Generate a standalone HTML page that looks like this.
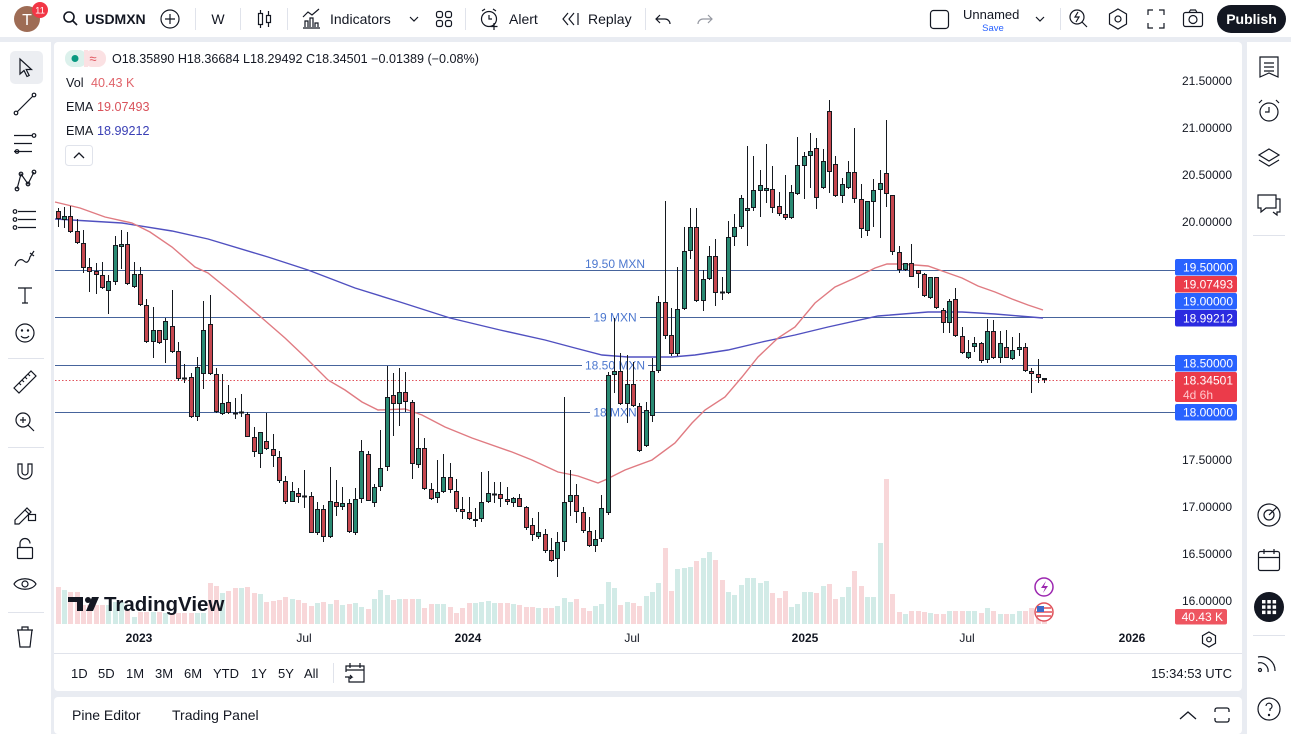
<!DOCTYPE html>
<html>
<head>
<meta charset="utf-8">
<style>
html,body{margin:0;padding:0;background:#e9ecf2;}
svg{display:block;}
text{font-family:"Liberation Sans",Arial,sans-serif;}
</style>
</head>
<body>
<svg width="1291" height="734" viewBox="0 0 1291 734" xmlns="http://www.w3.org/2000/svg">
<rect width="1291" height="734" fill="#e9ecf2"/>
<!-- panels -->
<rect x="0" y="0" width="1291" height="37" fill="#fff"/>
<rect x="0" y="42" width="51" height="692" fill="#fff"/>
<rect x="54" y="42" width="1188" height="649" rx="4" fill="#fff"/>
<rect x="54" y="697" width="1188" height="37" rx="4" fill="#fff"/>
<rect x="1247" y="42" width="44" height="692" fill="#fff"/>

<!-- ===== TOP TOOLBAR ===== -->
<circle cx="27" cy="19" r="13" fill="#9e6c55"/>
<text x="27" y="25" font-size="16" fill="#fff" text-anchor="middle">T</text>
<circle cx="40" cy="10" r="8" fill="#f23645"/>
<text x="40" y="13.5" font-size="9.5" fill="#fff" text-anchor="middle">11</text>
<g fill="none" stroke="#131722" stroke-width="1.6">
<circle cx="69" cy="17" r="5"/><path d="M72.5 20.5L77 25"/>
</g>
<text x="85" y="24" font-size="14" font-weight="bold" fill="#131722">USDMXN</text>
<g fill="none" stroke="#131722" stroke-width="1.2">
<circle cx="170" cy="19" r="9"/><path d="M170 14v10M165 19h10"/>
</g>
<path d="M195.5 8v22M240.5 8v22M287.5 8v22M465.5 8v22M645.5 8v22M1060.5 8v22" stroke="#e0e3eb"/>
<text x="218" y="24" font-size="14" fill="#131722" text-anchor="middle">W</text>
<g fill="none" stroke="#131722" stroke-width="1.2">
<rect x="258.5" y="13.5" width="4" height="11"/><path d="M260.5 10v3.5M260.5 24.5V28"/>
<rect x="266.5" y="15.5" width="4" height="7"/><path d="M268.5 11v4.5M268.5 22.5V27"/>
<path d="M303 28h17M305 27v-6h3v6M310 27v-9h3v9M315 27v-4h3v4M303 17l5-5 4 3 7-6"/>
<path d="M410 17l4 4 4-4"/>
<rect x="436.5" y="11.5" width="6" height="6" rx="2"/><rect x="445.5" y="11.5" width="6" height="6" rx="2"/>
<rect x="436.5" y="20.5" width="6" height="6" rx="2"/><rect x="445.5" y="20.5" width="6" height="6" rx="2"/>
<circle cx="489" cy="19" r="7.5"/><path d="M489 15v4h3M494 23v7M490.5 26.5h7M482 11l3-2M496 11l-3-2"/>
<path d="M568 13l-5 6 5 6M574 13l-5 6 5 6M578 13v12"/>
<path d="M660 15l-4 4 4 4M656 19h9a5 5 0 0 1 5 5"/>
</g>
<g fill="none" stroke="#9598a1" stroke-width="1.2"><path d="M708 15l4 4-4 4M712 19h-9a5 5 0 0 0-5 5"/></g>
<text x="330" y="24" font-size="14" fill="#131722">Indicators</text>
<text x="509" y="24" font-size="14" fill="#131722">Alert</text>
<text x="588" y="24" font-size="14" fill="#131722">Replay</text>
<g fill="none" stroke="#131722" stroke-width="1.2">
<rect x="930.5" y="10.5" width="18" height="18" rx="3"/>
<path d="M1036 17l4 4 4-4"/>
<circle cx="1077" cy="17" r="7"/><path d="M1082 22l5 5M1078 12l-3 5h4l-3 5"/>
<path d="M1118 9l8.5 5v10l-8.5 5-8.5-5V14z"/><circle cx="1118" cy="19" r="3"/>
<path d="M1148 15v-5h5M1159 10h5v5M1164 23v5h-5M1153 28h-5v-5"/>
<rect x="1183.5" y="12.5" width="19" height="14" rx="2"/><circle cx="1193" cy="19.5" r="4"/><path d="M1189 12.5l1.5-2.5h5l1.5 2.5"/>
</g>
<text x="963" y="19" font-size="13" fill="#131722">Unnamed</text>
<text x="993" y="31" font-size="9.5" fill="#2962ff" text-anchor="middle">Save</text>
<rect x="1217" y="5" width="69" height="28" rx="14" fill="#131722"/>
<text x="1251.5" y="24" font-size="14" font-weight="bold" fill="#fff" text-anchor="middle">Publish</text>

<!-- ===== LEFT TOOLBAR ===== -->
<rect x="10" y="51" width="33" height="33" rx="5" fill="#eceef2"/>
<g fill="none" stroke="#131722" stroke-width="1.2">
<path d="M20 59v15l4-3.5 3 6 2.2-1-3-6h5.3z"/>
<path d="M17 112l16-16"/><circle cx="16" cy="113" r="1.8"/><circle cx="34" cy="95" r="1.8"/>
<path d="M14 135.5h18M14 143.5h18M14 151.5h18"/><circle cx="34" cy="135.5" r="1.8"/><circle cx="17" cy="151.5" r="1.8"/>
<path d="M17 189l4-15 7 10 6-12"/><circle cx="17" cy="189" r="1.8"/><circle cx="21" cy="174" r="1.8"/><circle cx="28" cy="184" r="1.8"/><circle cx="34" cy="172" r="1.8"/>
<path d="M18 211.5h18M18 219.5h18M18 227.5h18"/><circle cx="15" cy="211.5" r="1.8"/><circle cx="15" cy="219.5" r="1.8"/><circle cx="15" cy="227.5" r="1.8"/>
<path d="M15 266c2-6 6-8 9-5s5 0 6-4l4-6M30 253l4 3"/>
<path d="M18 288h14M25 288v15M22 303h6"/>
<circle cx="25" cy="333" r="9"/><circle cx="22" cy="330.5" r=".6"/><circle cx="28" cy="330.5" r=".6"/><path d="M21 336c2 2.5 6 2.5 8 0"/>
<path d="M14 388l17-17 5 5-17 17zM19 383l2 2M22 380l2 2M25 377l2 2M28 374l2 2"/>
<circle cx="23" cy="420" r="7"/><path d="M28 425l6 6M20 420h6M23 417v6"/>
<path d="M18 464v8a7 7 0 0 0 14 0v-8h-4v8a3 3 0 0 1-6 0v-8z"/>
<path d="M15 520l12-12 4 4-12 12h-4zM25 510l4 4"/><rect x="28.5" y="514.5" width="7" height="6"/>
<rect x="17.5" y="547.5" width="15" height="11" rx="1"/><path d="M20 547.5v-4a5 5 0 0 1 10 0"/>
<path d="M14 584c4-7 18-7 22 0-4 7-18 7-22 0z"/><circle cx="25" cy="584" r="3"/>
<path d="M17 630h16M22 630v-3h6v3M18 630l2 17h10l2-17"/>
</g>
<path d="M8 358.5h36M8 447.5h36M8 612.5h36" stroke="#e0e3eb"/>

<!-- ===== RIGHT SIDEBAR ===== -->
<g fill="none" stroke="#131722" stroke-width="1.2">
<path d="M1260 57h18v20l-9-4-9 4z"/><path d="M1264 63h10M1264 67h10M1264 71h10"/>
<circle cx="1269" cy="112" r="9"/><path d="M1269 107v5h-4M1259 103l3-3M1279 103l-3-3"/>
<path d="M1269 149l10 6-10 6-10-6zM1259 160l10 6 10-6"/>
<path d="M1258 195h18v13h-10l-5 4v-4h-3zM1276 199h4v13h-3v3l-4-3"/>
<circle cx="1269" cy="515" r="11"/><circle cx="1269" cy="515" r="5"/><path d="M1269 515l8-8"/>
<rect x="1258.5" y="551.5" width="21" height="19" rx="2"/><path d="M1258.5 557.5h21M1264 549v5M1274 549v5"/>
<path d="M1258 657a14 14 0 0 1 17 14M1258 663a8 8 0 0 1 10 9"/><circle cx="1260" cy="670" r="1.5"/>
<circle cx="1269" cy="709" r="11"/><path d="M1266 706a3 3 0 1 1 4 3v2"/><circle cx="1269" cy="715" r=".6"/>
</g>
<circle cx="1269" cy="607" r="15" fill="#131722"/>
<g fill="#fff">
<rect x="1262" y="600" width="3.5" height="3.5"/><rect x="1267.3" y="600" width="3.5" height="3.5"/><rect x="1272.6" y="600" width="3.5" height="3.5"/>
<rect x="1262" y="605.3" width="3.5" height="3.5"/><rect x="1267.3" y="605.3" width="3.5" height="3.5"/><rect x="1272.6" y="605.3" width="3.5" height="3.5"/>
<rect x="1262" y="610.6" width="3.5" height="3.5"/><rect x="1267.3" y="610.6" width="3.5" height="3.5"/><rect x="1272.6" y="610.6" width="3.5" height="3.5"/>
</g>
<path d="M1253 235.5h32M1253 635.5h32" stroke="#e0e3eb"/>

<!-- ===== CHART ===== -->
<!-- volume -->
<path fill="#f8d7d9" d="M56 587h5V624h-5zM68 592h5V624h-5zM75 592h5V624h-5zM81 605h5V624h-5zM87 605h5V624h-5zM94 605h5V624h-5zM100 605h5V624h-5zM125 610h5V624h-5zM138 612h5V624h-5zM144 612h5V624h-5zM157 612h5V624h-5zM170 613h5V624h-5zM176 613h5V624h-5zM182 613h5V624h-5zM189 613h5V624h-5zM208 583h5V624h-5zM214 586h5V624h-5zM226 591h5V624h-5zM233 588h5V624h-5zM245 587h5V624h-5zM252 593h5V624h-5zM264 602h5V624h-5zM271 601h5V624h-5zM277 600h5V624h-5zM283 597h5V624h-5zM296 600h5V624h-5zM302 603h5V624h-5zM309 606h5V624h-5zM321 602h5V624h-5zM334 600h5V624h-5zM347 604h5V624h-5zM366 609h5V624h-5zM391 600h5V624h-5zM403 599h5V624h-5zM410 599h5V624h-5zM422 608h5V624h-5zM429 604h5V624h-5zM448 607h5V624h-5zM454 613h5V624h-5zM460 608h5V624h-5zM467 603h5V624h-5zM498 603h5V624h-5zM505 603h5V624h-5zM517 605h5V624h-5zM524 607h5V624h-5zM530 607h5V624h-5zM543 608h5V624h-5zM549 608h5V624h-5zM574 599h5V624h-5zM581 608h5V624h-5zM587 611h5V624h-5zM618 605h5V624h-5zM631 603h5V624h-5zM637 606h5V624h-5zM663 548h5V624h-5zM669 591h5V624h-5zM694 561h5V624h-5zM713 560h5V624h-5zM720 580h5V624h-5zM770 593h5V624h-5zM777 598h5V624h-5zM783 591h5V624h-5zM814 593h5V624h-5zM827 584h5V624h-5zM833 599h5V624h-5zM852 571h5V624h-5zM859 586h5V624h-5zM884 479h5V624h-5zM890 594h5V624h-5zM897 612h5V624h-5zM909 611h5V624h-5zM916 611h5V624h-5zM922 612h5V624h-5zM934 614h5V624h-5zM941 614h5V624h-5zM953 611h5V624h-5zM960 611h5V624h-5zM979 613h5V624h-5zM991 611h5V624h-5zM1004 614h5V624h-5zM1023 611h5V624h-5zM1029 608h5V624h-5zM1036 611h5V624h-5zM1042 616h5V624h-5z"/>
<path fill="#d2ebe7" d="M62 590h5V624h-5zM106 605h5V624h-5zM113 602h5V624h-5zM119 602h5V624h-5zM132 617h5V624h-5zM151 612h5V624h-5zM163 613h5V624h-5zM195 613h5V624h-5zM201 613h5V624h-5zM220 593h5V624h-5zM239 588h5V624h-5zM258 594h5V624h-5zM290 599h5V624h-5zM315 603h5V624h-5zM328 604h5V624h-5zM340 605h5V624h-5zM353 603h5V624h-5zM359 607h5V624h-5zM372 599h5V624h-5zM378 590h5V624h-5zM385 595h5V624h-5zM397 599h5V624h-5zM416 599h5V624h-5zM435 604h5V624h-5zM441 604h5V624h-5zM473 603h5V624h-5zM479 602h5V624h-5zM486 601h5V624h-5zM492 603h5V624h-5zM511 604h5V624h-5zM536 608h5V624h-5zM555 606h5V624h-5zM562 598h5V624h-5zM568 602h5V624h-5zM593 606h5V624h-5zM599 604h5V624h-5zM606 582h5V624h-5zM612 588h5V624h-5zM625 602h5V624h-5zM644 596h5V624h-5zM650 592h5V624h-5zM656 583h5V624h-5zM675 569h5V624h-5zM682 568h5V624h-5zM688 567h5V624h-5zM701 558h5V624h-5zM707 552h5V624h-5zM726 592h5V624h-5zM732 595h5V624h-5zM739 585h5V624h-5zM745 578h5V624h-5zM751 578h5V624h-5zM758 583h5V624h-5zM764 581h5V624h-5zM789 607h5V624h-5zM795 604h5V624h-5zM802 592h5V624h-5zM808 592h5V624h-5zM821 586h5V624h-5zM840 597h5V624h-5zM846 587h5V624h-5zM865 597h5V624h-5zM871 597h5V624h-5zM878 543h5V624h-5zM903 614h5V624h-5zM928 613h5V624h-5zM947 611h5V624h-5zM966 611h5V624h-5zM972 611h5V624h-5zM985 608h5V624h-5zM998 614h5V624h-5zM1010 614h5V624h-5zM1017 611h5V624h-5z"/>

<!-- TradingView watermark -->
<g fill="#131722">
<path d="M68 597h15v14h-6v-9h-9z"/>
<circle cx="88" cy="600" r="3"/>
<path d="M92 597h7l-6 14h-7z"/>
</g>
<text x="104" y="611" font-size="20.5" font-weight="bold" fill="#131722">TradingView</text>

<!-- horizontal levels -->
<path d="M55 270.5H1175M55 317.5H1175M55 365.5H1175M55 412.5H1175" stroke="#46649c" stroke-width="1"/>
<path d="M55 380.5H1175" stroke="#e0525b" stroke-width="1" stroke-dasharray="1.5 2"/>
<rect x="590" y="310" width="50" height="14" fill="#fff"/>
<rect x="582" y="358" width="66" height="14" fill="#fff"/>
<rect x="590" y="405" width="50" height="14" fill="#fff"/>
<g font-size="12" fill="#4d78cf" text-anchor="middle">
<text x="615" y="268">19.50 MXN</text>
<text x="615" y="321.5">19 MXN</text>
<text x="615" y="369.5">18.50 MXN</text>
<text x="615" y="416.5">18 MXN</text>
</g>

<!-- EMAs -->
<polyline fill="none" stroke="#5050c0" stroke-width="1.4" points="55,219 122,223 172,231 208,239 268,257 308,270 355,288 400,302 450,318 500,330 545,340 575,348 602,355 628,357 672,357 695,355 728,350 762,342 795,335 828,327 878,316 928,312 962,312 995,314 1043,318"/>
<polyline fill="none" stroke="#e07b82" stroke-width="1.4" points="55,202 80,208 105,217 132,223 150,232 172,247 195,267 208,273 235,295 262,318 285,338 305,357 328,380 345,390 362,402 378,410 405,409 422,415 445,427 472,438 512,452 532,460 558,472 578,476 598,483 605,480 625,470 652,460 675,443 692,423 705,410 725,397 742,377 758,357 778,338 795,327 815,303 835,287 855,278 875,268 887,264 898,264 915,265 928,266 945,272 962,278 978,286 995,292 1012,299 1028,305 1043,310"/>

<!-- wicks -->
<path fill="none" stroke="#15191f" stroke-width="1" d="M58.5 208V227M64.5 207V228M70.5 206V233M77.5 219V244M83.5 230V273M89.5 258V292M96.5 263V294M102.5 262V289M108.5 275V314M115.5 236V285M121.5 230V269M127.5 232V285M134.5 262V288M140.5 267V306M146.5 299V343M153.5 307V358M159.5 330V344M165.5 318V363M172.5 290V353M178.5 342V381M184.5 364V383M191.5 373V418M197.5 357V421M203.5 301V389M210.5 295V375M216.5 368V413M222.5 374V415M228.5 385V414M235.5 398V419M241.5 394V417M247.5 412V437M254.5 427V457M260.5 432V468M266.5 413V450M273.5 434V467M279.5 451V483M285.5 476V504M292.5 482V502M298.5 488V503M304.5 470V508M311.5 492V533M317.5 502V535M323.5 505V542M330.5 467V538M336.5 480V516M342.5 487V510M349.5 499V533M355.5 488V535M361.5 440V503M368.5 451V501M374.5 484V507M380.5 430V491M387.5 366V471M393.5 373V436M399.5 368V426M405.5 372V412M412.5 400V479M418.5 418V468M424.5 438V490M431.5 483V500M437.5 460V503M443.5 454V493M450.5 463V493M456.5 479V512M462.5 497V519M469.5 497V520M475.5 508V527M481.5 472V522M488.5 471V503M494.5 482V503M500.5 482V507M507.5 487V505M513.5 497V507M519.5 494V507M526.5 506V530M532.5 518V541M538.5 512V539M545.5 529V553M551.5 538V562M557.5 532V577M564.5 397V551M570.5 470V516M576.5 484V523M583.5 507V533M589.5 517V547M595.5 530V552M601.5 495V542M608.5 372V515M614.5 318V393M620.5 353V405M627.5 355V423M633.5 362V407M639.5 403V452M646.5 402V447M652.5 358V422M658.5 296V373M665.5 201V339M671.5 308V356M677.5 267V356M684.5 227V310M690.5 208V259M696.5 208V302M703.5 270V311M709.5 246V280M715.5 239V306M722.5 277V300M728.5 221V294M734.5 214V246M741.5 195V229M747.5 146V246M753.5 156V211M760.5 170V217M766.5 144V203M772.5 166V213M779.5 192V216M785.5 175V220M791.5 185V219M797.5 137V195M804.5 152V199M810.5 133V188M816.5 138V209M823.5 149V189M829.5 100V193M835.5 156V197M842.5 178V203M848.5 161V189M854.5 128V203M861.5 184V238M867.5 201V236M873.5 179V227M880.5 170V238M886.5 120V207M892.5 195V255M899.5 246V273M905.5 263V271M911.5 244V277M918.5 270V288M924.5 273V297M930.5 277V299M936.5 277V309M943.5 308V333M949.5 299V333M955.5 288V337M962.5 327V354M968.5 340V359M974.5 337V352M981.5 342V363M987.5 319V363M993.5 320V359M1000.5 331V363M1006.5 330V358M1012.5 337V360M1019.5 333V356M1025.5 343V372M1031.5 368V393M1038.5 359V383M1044.5 378V383"/>

<!-- green bodies -->
<path fill="#2a8a73" stroke="#15191f" stroke-width="1" d="M62.5 216.5h4v3h-4zM106.5 281.5h4v9h-4zM113.5 245.5h4v36h-4zM119.5 244.5h4v2h-4zM132.5 274.5h4v12h-4zM151.5 330.5h4v11h-4zM163.5 321.5h4v18h-4zM195.5 367.5h4v49h-4zM201.5 330.5h4v43h-4zM220.5 403.5h4v10h-4zM239.5 412h4v1h-4zM258.5 432.5h4v21h-4zM290.5 491.5h4v10h-4zM315.5 509.5h4v23h-4zM328.5 501.5h4v35h-4zM340.5 503.5h4v3h-4zM353.5 499.5h4v33h-4zM359.5 451.5h4v47h-4zM372.5 487.5h4v15h-4zM378.5 468.5h4v18h-4zM385.5 397.5h4v69h-4zM397.5 392.5h4v11h-4zM416.5 448.5h4v16h-4zM435.5 492.5h4v5h-4zM441.5 477.5h4v14h-4zM473.5 519.5h4v1h-4zM479.5 502.5h4v16h-4zM486.5 493.5h4v8h-4zM492.5 494h4v1h-4zM511.5 498.5h4v4h-4zM536.5 532.5h4v4h-4zM555.5 542.5h4v16h-4zM562.5 502.5h4v39h-4zM568.5 495.5h4v6h-4zM593.5 539.5h4v6h-4zM599.5 508.5h4v30h-4zM606.5 375.5h4v137h-4zM612.5 371.5h4v3h-4zM625.5 384.5h4v19h-4zM644.5 410.5h4v35h-4zM650.5 371.5h4v44h-4zM656.5 302.5h4v68h-4zM675.5 309.5h4v44h-4zM682.5 251.5h4v57h-4zM688.5 227.5h4v23h-4zM701.5 279.5h4v21h-4zM707.5 256.5h4v22h-4zM726.5 237.5h4v55h-4zM732.5 227.5h4v9h-4zM739.5 198.5h4v28h-4zM745.5 208.5h4v2h-4zM751.5 190.5h4v17h-4zM758.5 185.5h4v5h-4zM764.5 188.5h4v2h-4zM789.5 192.5h4v25h-4zM795.5 165.5h4v28h-4zM802.5 156.5h4v9h-4zM808.5 151.5h4v4h-4zM821.5 161.5h4v26h-4zM840.5 184.5h4v11h-4zM846.5 172.5h4v15h-4zM865.5 201.5h4v29h-4zM871.5 190.5h4v11h-4zM878.5 183.5h4v6h-4zM903.5 263.5h4v6h-4zM928.5 277.5h4v20h-4zM947.5 301.5h4v21h-4zM966.5 352.5h4v5h-4zM972.5 343.5h4v3h-4zM985.5 331.5h4v28h-4zM998.5 343.5h4v14h-4zM1010.5 350.5h4v8h-4zM1017.5 347.5h4v2h-4z"/>
<!-- red bodies -->
<path fill="#c6474f" stroke="#15191f" stroke-width="1" d="M56.5 211.5h4v7h-4zM68.5 216.5h4v15h-4zM75.5 231.5h4v11h-4zM81.5 243.5h4v24h-4zM87.5 267.5h4v4h-4zM94.5 271.5h4v3h-4zM100.5 275.5h4v12h-4zM125.5 244.5h4v39h-4zM138.5 274.5h4v30h-4zM144.5 305.5h4v36h-4zM157.5 330.5h4v12h-4zM170.5 326.5h4v25h-4zM176.5 351.5h4v27h-4zM182.5 378h4v1h-4zM189.5 377.5h4v39h-4zM208.5 324.5h4v49h-4zM214.5 374.5h4v37h-4zM226.5 402.5h4v10h-4zM233.5 413h4v1h-4zM245.5 414.5h4v22h-4zM252.5 437.5h4v14h-4zM264.5 441.5h4v7h-4zM271.5 449.5h4v6h-4zM277.5 457.5h4v23h-4zM283.5 481.5h4v20h-4zM296.5 493.5h4v3h-4zM302.5 496h4v1h-4zM309.5 496.5h4v36h-4zM321.5 509.5h4v27h-4zM334.5 502.5h4v4h-4zM347.5 503.5h4v28h-4zM366.5 454.5h4v46h-4zM391.5 395.5h4v8h-4zM403.5 392.5h4v9h-4zM410.5 402.5h4v61h-4zM422.5 448.5h4v40h-4zM429.5 489.5h4v9h-4zM448.5 477.5h4v12h-4zM454.5 491.5h4v17h-4zM460.5 509.5h4v2h-4zM467.5 512.5h4v6h-4zM498.5 494.5h4v4h-4zM505.5 499.5h4v2h-4zM517.5 498.5h4v8h-4zM524.5 507.5h4v20h-4zM530.5 525.5h4v9h-4zM543.5 534.5h4v16h-4zM549.5 550.5h4v10h-4zM574.5 495.5h4v16h-4zM581.5 512.5h4v18h-4zM587.5 531.5h4v14h-4zM618.5 371.5h4v32h-4zM631.5 384.5h4v21h-4zM637.5 406.5h4v44h-4zM663.5 302.5h4v33h-4zM669.5 335.5h4v18h-4zM694.5 227.5h4v73h-4zM713.5 256.5h4v36h-4zM720.5 292h4v1h-4zM770.5 189.5h4v18h-4zM777.5 206.5h4v7h-4zM783.5 214.5h4v3h-4zM814.5 148.5h4v49h-4zM827.5 111.5h4v60h-4zM833.5 164.5h4v31h-4zM852.5 172.5h4v26h-4zM859.5 199.5h4v29h-4zM884.5 173.5h4v20h-4zM890.5 195.5h4v56h-4zM897.5 252.5h4v17h-4zM909.5 263.5h4v13h-4zM916.5 270.5h4v3h-4zM922.5 274.5h4v21h-4zM934.5 277.5h4v30h-4zM941.5 310.5h4v12h-4zM953.5 299.5h4v36h-4zM960.5 336.5h4v16h-4zM979.5 343.5h4v17h-4zM991.5 331.5h4v26h-4zM1004.5 347.5h4v10h-4zM1023.5 347.5h4v23h-4zM1029.5 371.5h4v2h-4zM1036.5 374.5h4v3h-4zM1042.5 378.5h4v1h-4z"/>

<!-- event icons -->
<circle cx="1044" cy="587" r="9" fill="#fff" stroke="#9c27b0" stroke-width="1.5"/>
<path d="M1046 581l-5 7h4l-2 5 5-7h-4z" fill="#9c27b0"/>
<circle cx="1044" cy="612" r="9" fill="#fff" stroke="#e0525b" stroke-width="1.5"/>
<path d="M1037 608h14M1036 612h16M1037 616h14" stroke="#e0525b" stroke-width="1.6"/>
<rect x="1037" y="606" width="7" height="6" fill="#3d6bc9"/>

<!-- legend -->
<rect x="65" y="50" width="22" height="17" rx="8" fill="#dcf1ec"/>
<rect x="84" y="50" width="22" height="17" rx="8" fill="#fbe1e3"/>
<rect x="84" y="50" width="4" height="17" fill="#fbe1e3"/>
<circle cx="75" cy="58.5" r="3.5" fill="#089981"/>
<text x="93" y="63" font-size="13" fill="#e0525b" text-anchor="middle">≈</text>
<text x="112" y="63" font-size="12.6" fill="#131722">O18.35890 H18.36684 L18.29492 C18.34501 −0.01389 (−0.08%)</text>
<text x="66" y="87" font-size="12.6" fill="#131722">Vol</text>
<text x="91" y="87" font-size="12.6" fill="#e0636a">40.43 K</text>
<text x="66" y="111" font-size="12.6" fill="#131722">EMA</text>
<text x="97" y="111" font-size="12.6" fill="#d9525b">19.07493</text>
<text x="66" y="135" font-size="12.6" fill="#131722">EMA</text>
<text x="97" y="135" font-size="12.6" fill="#3a3fb5">18.99212</text>
<rect x="65.5" y="145.5" width="27" height="20" rx="3" fill="#fff" stroke="#e0e3eb"/>
<path d="M74 158l5-5 5 5" fill="none" stroke="#131722" stroke-width="1.3"/>

<!-- price axis -->
<g font-size="12" fill="#131722" text-anchor="end">
<text x="1232" y="85">21.50000</text>
<text x="1232" y="132">21.00000</text>
<text x="1232" y="179">20.50000</text>
<text x="1232" y="226">20.00000</text>
<text x="1232" y="464">17.50000</text>
<text x="1232" y="511">17.00000</text>
<text x="1232" y="558">16.50000</text>
<text x="1232" y="605">16.00000</text>
</g>
<rect x="1175" y="259" width="62" height="16.5" rx="2" fill="#2962ff"/>
<rect x="1175" y="276" width="62" height="16.5" rx="2" fill="#eb3b4a"/>
<rect x="1175" y="293" width="62" height="16.5" rx="2" fill="#2962ff"/>
<rect x="1175" y="310" width="62" height="16.5" rx="2" fill="#2b2be0"/>
<rect x="1175" y="355" width="62" height="16.5" rx="2" fill="#2962ff"/>
<rect x="1175" y="372" width="62" height="30" rx="2" fill="#eb3b4a"/>
<rect x="1175" y="404" width="62" height="16.5" rx="2" fill="#2962ff"/>
<rect x="1175" y="609" width="52" height="15.5" rx="2" fill="#ee5560"/>
<g font-size="12" fill="#fff" text-anchor="end">
<text x="1233" y="271.5">19.50000</text>
<text x="1233" y="288.5">19.07493</text>
<text x="1233" y="305.5">19.00000</text>
<text x="1233" y="322.5">18.99212</text>
<text x="1233" y="367.5">18.50000</text>
<text x="1233" y="384.5">18.34501</text>
<text x="1233" y="416.5">18.00000</text>
<text x="1223" y="621">40.43 K</text>
</g>
<text x="1183" y="399" font-size="12" fill="#ffc7cb">4d 6h</text>

<!-- time axis -->
<g font-size="12" fill="#131722" text-anchor="middle">
<text x="139" y="642" font-weight="bold">2023</text>
<text x="304" y="642">Jul</text>
<text x="468" y="642" font-weight="bold">2024</text>
<text x="632" y="642">Jul</text>
<text x="805" y="642" font-weight="bold">2025</text>
<text x="967" y="642">Jul</text>
<text x="1132" y="642" font-weight="bold">2026</text>
</g>
<g fill="none" stroke="#131722" stroke-width="1.2">
<path d="M1209 632l6.5 3.7v7.6l-6.5 3.7-6.5-3.7v-7.6z"/><circle cx="1209" cy="639.5" r="2.3"/>
</g>
<path d="M54 653.5H1242" stroke="#e0e3eb"/>

<!-- bottom range bar -->
<g font-size="13" fill="#131722">
<text x="71" y="678">1D</text>
<text x="98" y="678">5D</text>
<text x="126" y="678">1M</text>
<text x="155" y="678">3M</text>
<text x="184" y="678">6M</text>
<text x="213" y="678">YTD</text>
<text x="251" y="678">1Y</text>
<text x="278" y="678">5Y</text>
<text x="304" y="678">All</text>
<text x="1232" y="678" text-anchor="end">15:34:53 UTC</text>
</g>
<path d="M333.5 663v20" stroke="#e0e3eb"/>
<g fill="none" stroke="#131722" stroke-width="1.2">
<path d="M349 677v5h15v-16h-18v6M346 670h18M350 663v5M360 663v5M345 677h7l-2-2M352 677l-2 2"/>
</g>

<!-- bottom panel -->
<text x="72" y="720" font-size="14" fill="#131722">Pine Editor</text>
<text x="172" y="720" font-size="14" fill="#131722">Trading Panel</text>
<g fill="none" stroke="#131722" stroke-width="1.3">
<path d="M1180 719l8-7 8 7"/>
<path d="M1215 712v-2a2 2 0 0 1 2-2h10a2 2 0 0 1 2 2v2M1215 718v2a2 2 0 0 0 2 2h10a2 2 0 0 0 2-2v-2"/>
</g>
</svg>
</body>
</html>
